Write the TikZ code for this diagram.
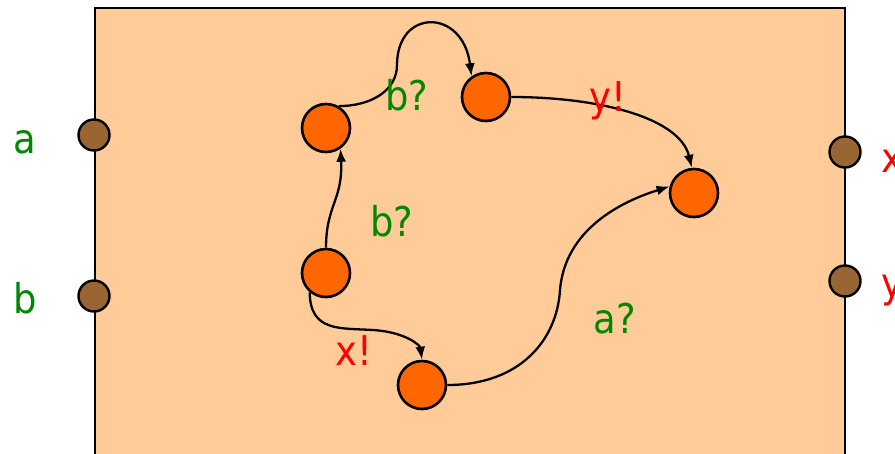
\documentclass[tikz,border=0pt]{standalone}
\usepackage{fontspec}
\newfontfamily\labfont[FakeStretch=0.9]{DejaVu Sans}
\usetikzlibrary{arrows.meta}
\definecolor{bgc}{HTML}{FFCC99}
\definecolor{stc}{HTML}{FF6600}
\definecolor{portc}{HTML}{996633}
\definecolor{grn}{RGB}{0,136,0}
\definecolor{rd}{RGB}{255,0,0}
\tikzset{
  state/.style={circle,draw=black,line width=2.6pt,fill=stc,minimum size=48pt,inner sep=0pt},
  port/.style={circle,draw=black,line width=2.4pt,fill=portc,minimum size=31pt,inner sep=0pt},
  lab/.style={font=\labfont\fontsize{41}{41}\selectfont,inner sep=0pt,anchor=base},
  inlab/.style={lab,text=grn},
  outlab/.style={lab,text=rd},
  edge/.style={line width=2.3pt,-{Latex[length=13pt,width=10pt]}}
}
\begin{document}
\begin{tikzpicture}[x=1pt,y=-1pt]
\useasboundingbox (0,0) rectangle (895,453);
\clip (0,0) rectangle (895,453);
\draw[line width=2.4pt,fill=bgc] (95,8) rectangle (845,480);
% ports
\node[port] (pa) at (94,135) {};
\node[port] (pb) at (94,296) {};
\node[port] (px) at (845,152) {};
\node[port] (py) at (845,281) {};
\node[inlab] (la) at (25,153) {a};
\node[inlab] (lb) at (25,313) {b};
\node[outlab,anchor=base west] (lx) at (881,172) {x};
\node[outlab,anchor=base west] (ly) at (881,297) {y};
% states
\node[state] (s1) at (326,128) {};
\node[state] (s2) at (486,97) {};
\node[state] (s3) at (694,193) {};
\node[state] (s4) at (326,273) {};
\node[state] (s5) at (422,385) {};
% edges
\draw[edge] (s4.north) .. controls (326,205) and (343,200) .. (s1.-55);
\draw[edge] (s1.60) .. controls (372,106) and (397,90) .. (397,65)
   .. controls (397,8) and (463,8) .. (s2.125);
\draw[edge] (s2.east) .. controls (600,97) and (680,118) .. (s3.95);
\draw[edge] (s4.-130) .. controls (310,332) and (340,328) .. (373,330)
   .. controls (405,332) and (420,345) .. (s5.90);
\draw[edge] (s5.east) .. controls (520,385) and (557,340) .. (560,290)
   .. controls (565,230) and (620,202) .. (s3.165);
% labels
\node[inlab] (t1) at (407,110) {b?};
\node[outlab] (t2) at (608,111) {y!};
\node[inlab] (t3) at (392,236) {b?};
\node[outlab] (t4) at (354,365) {x!};
\node[inlab] (t5) at (615,333) {a?};
\end{tikzpicture}
\end{document}
